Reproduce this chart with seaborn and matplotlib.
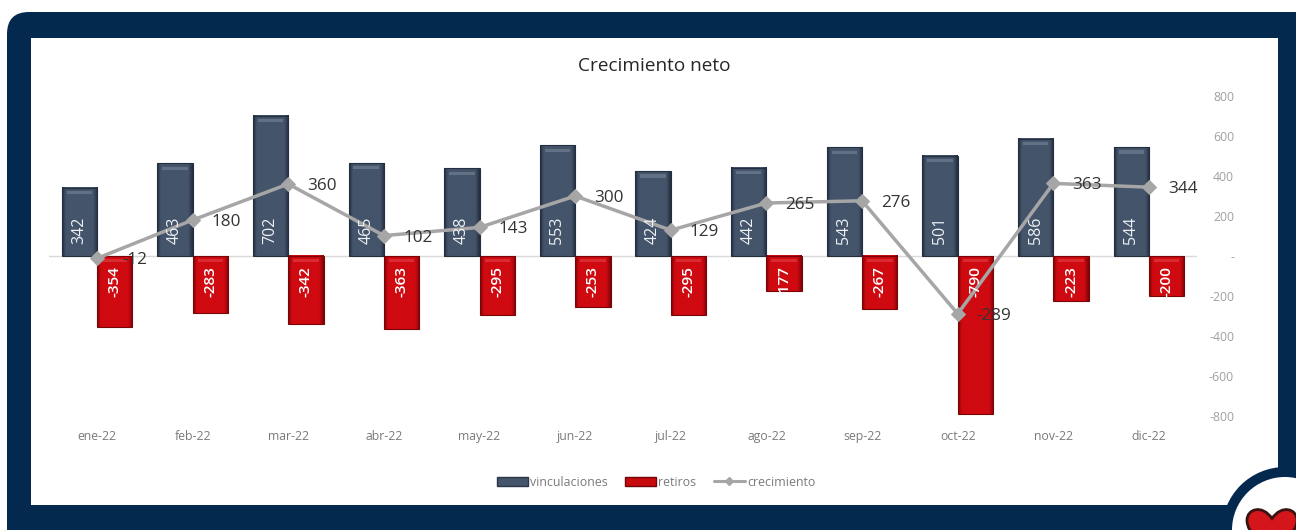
import numpy as np
import pandas as pd
import matplotlib
matplotlib.use("Agg")
import matplotlib.pyplot as plt
from matplotlib.colors import LinearSegmentedColormap
from matplotlib.patches import FancyBboxPatch, Rectangle, Circle, PathPatch
from matplotlib.path import Path
from matplotlib.lines import Line2D
from matplotlib.patches import Patch
import seaborn as sns

months = ["ene-22", "feb-22", "mar-22", "abr-22", "may-22", "jun-22",
          "jul-22", "ago-22", "sep-22", "oct-22", "nov-22", "dic-22"]
vinculaciones = [342, 463, 702, 465, 438, 553, 424, 442, 543, 501, 586, 544]
retiros = [-354, -283, -342, -363, -295, -253, -295, -177, -267, -790, -223, -200]
crecimiento = [-12, 180, 360, 102, 143, 300, 129, 265, 276, -289, 363, 344]
yticks = [-800, -600, -400, -200, 0, 200, 400, 600, 800]
ytick_labels = ["-800", "-600", "-400", "-200", "-", "200", "400", "600", "800"]

NAVY = "#04294f"
BLUE = "#44546a"
RED = "#c80a0f"
GREY = "#a6a6a6"
W, H = 1296, 530

sns.set_theme(style="white")
plt.rcParams["font.family"] = ["Open Sans", "DejaVu Sans"]

fig = plt.figure(figsize=(W / 100, H / 100), dpi=100, facecolor="white")

# decorative frame, in pixel coordinates
bg = fig.add_axes([0, 0, 1, 1], zorder=0)
bg.set_xlim(0, W); bg.set_ylim(H, 0); bg.axis("off")
bg.add_patch(FancyBboxPatch((7 + 22, 12 + 22), W + 40 - 29 - 22, H + 40 - 34 - 22,
                            boxstyle="round,pad=22,rounding_size=22", fc=NAVY, ec="none"))
bg.add_patch(Rectangle((31, 38), 1247, 467, fc="white", ec="none"))
bg.add_patch(Circle((1285, 530), 63, fc=NAVY, ec="none"))
bg.add_patch(Circle((1285, 530), 53, fc="white", ec="none"))
hx, hy, s = 1272, 529, 25
verts = [(0, 0.85), (-0.35, 0.55), (-1.0, 0.2), (-1.0, -0.35), (-1.0, -0.8), (-0.4, -1.0), (0, -0.42),
         (0.4, -1.0), (1.0, -0.8), (1.0, -0.35), (1.0, 0.2), (0.35, 0.55), (0, 0.85), (0, 0.85)]
codes = [Path.MOVETO] + [Path.CURVE4] * 12 + [Path.CLOSEPOLY]
bg.add_patch(PathPatch(Path([(hx + s * a, hy + s * b) for a, b in verts], codes),
                       fc="#d4161c", ec="#3a1210", lw=2))

# chart
x0, x1, ytop, ybot = 49.2, 1196.8, 96, 416
ax = fig.add_axes([x0 / W, 1 - ybot / H, (x1 - x0) / W, (ybot - ytop) / H], zorder=1)
ax.patch.set_alpha(0)

df = pd.DataFrame({
    "mes": months * 2,
    "valor": vinculaciones + retiros,
    "serie": ["vinculaciones"] * 12 + ["retiros"] * 12,
})
sns.barplot(data=df, x="mes", y="valor", hue="serie", order=months,
            hue_order=["vinculaciones", "retiros"],
            palette={"vinculaciones": BLUE, "retiros": RED},
            width=0.74, gap=0, dodge=True, legend=False, ax=ax, zorder=2, errorbar=None)
ax.set_xlim(-0.5, 11.5)
ax.set_ylim(-800, 800)

# bevel shading on every bar, derived from the drawn bar rectangles
shades = {True: ("#232e3f", BLUE), False: ("#7a0508", "#cf0a10")}
for bar in list(ax.patches):
    bx, by, bw, bh = bar.get_x(), bar.get_y(), bar.get_width(), bar.get_height()
    if bw == 0:
        continue
    pos = bh > 0
    dark, mid = shades[pos]
    cmap = LinearSegmentedColormap.from_list(
        "b", [(0, dark), (.1, mid), (.88, mid), (1, dark)])
    grad = np.linspace(0, 1, 64)[None, :]
    bot, top = (0, bh) if pos else (bh, 0)
    ax.imshow(grad, extent=(bx, bx + bw, bot, top), aspect="auto", cmap=cmap,
              interpolation="bilinear", zorder=2.1, vmin=0, vmax=1)
    # light strip along the top of the bar, darker rim along the bottom of red bars
    ax.add_patch(Rectangle((bx + bw * .14, top - 32), bw * .72, 16,
                           fc="#8595aa" if pos else "#e8555a", ec="none", alpha=.45, zorder=2.2))
    ax.add_patch(Rectangle((bx, min(0, bh)), bw, abs(bh), fc="none", ec=dark, lw=.8, zorder=2.3))
ax.set_xlim(-0.5, 11.5)
ax.set_ylim(-800, 800)

sns.lineplot(x=np.arange(12), y=crecimiento, color=GREY, lw=2.5, marker="D", ms=7,
             mec=GREY, ax=ax, zorder=3, errorbar=None)

# labels
for i, (a, b, c) in enumerate(zip(vinculaciones, retiros, crecimiento)):
    ax.text(i - 0.185, 62, str(a), rotation=90, color="#eef1f5", fontsize=11.5,
            ha="center", va="bottom", zorder=4)
    ax.text(i + 0.185, -50, str(b), rotation=90, color="white", fontsize=11,
            fontweight="semibold", ha="center", va="top", zorder=4)
    shift = 0.07 if i == 0 else 0
    ax.text(i + 0.2 + shift, c - 10, str(c), color="#333333", fontsize=12.3,
            ha="left", va="center", zorder=5)

ax.axhline(0, color="#d9d9d9", lw=1, zorder=1)
ax.set_xticks(range(12))
ax.set_xticklabels(months)
ax.set_yticks(yticks)
ax.set_yticklabels(ytick_labels)
ax.tick_params(axis="x", length=0, labelsize=8.8, labelcolor="#7a7a7a", pad=10)
ax.tick_params(axis="y", length=0, labelsize=8.8, labelcolor="#a0a0a0", pad=0,
               left=False, labelleft=False, right=False, labelright=True)
for lab in ax.get_yticklabels():
    lab.set_ha("right")
    lab.set_x(1.0325)
ax.set_xlabel(""); ax.set_ylabel("")
sns.despine(ax=ax, left=True, bottom=True, top=True, right=True)

fig.text(654 / W, 1 - 66 / H, "Crecimiento neto", fontsize=13.7, color="#262626",
         ha="center", va="center", zorder=5)

handles = [Patch(fc=BLUE, ec="#2b3648"), Patch(fc=RED, ec="#6e0508"),
           Line2D([], [], color=GREY, lw=2.2, marker="D", ms=4)]
fig.legend(handles, ["vinculaciones", "retiros", "crecimiento"], loc="center",
           bbox_to_anchor=(656 / W, 1 - 482 / H), ncol=3, frameon=False, fontsize=8.9,
           labelcolor="#7a7a7a", handlelength=2.5, handleheight=0.75, handletextpad=0.2,
           columnspacing=1.4, borderpad=0)

fig.savefig("out.png", dpi=100)
